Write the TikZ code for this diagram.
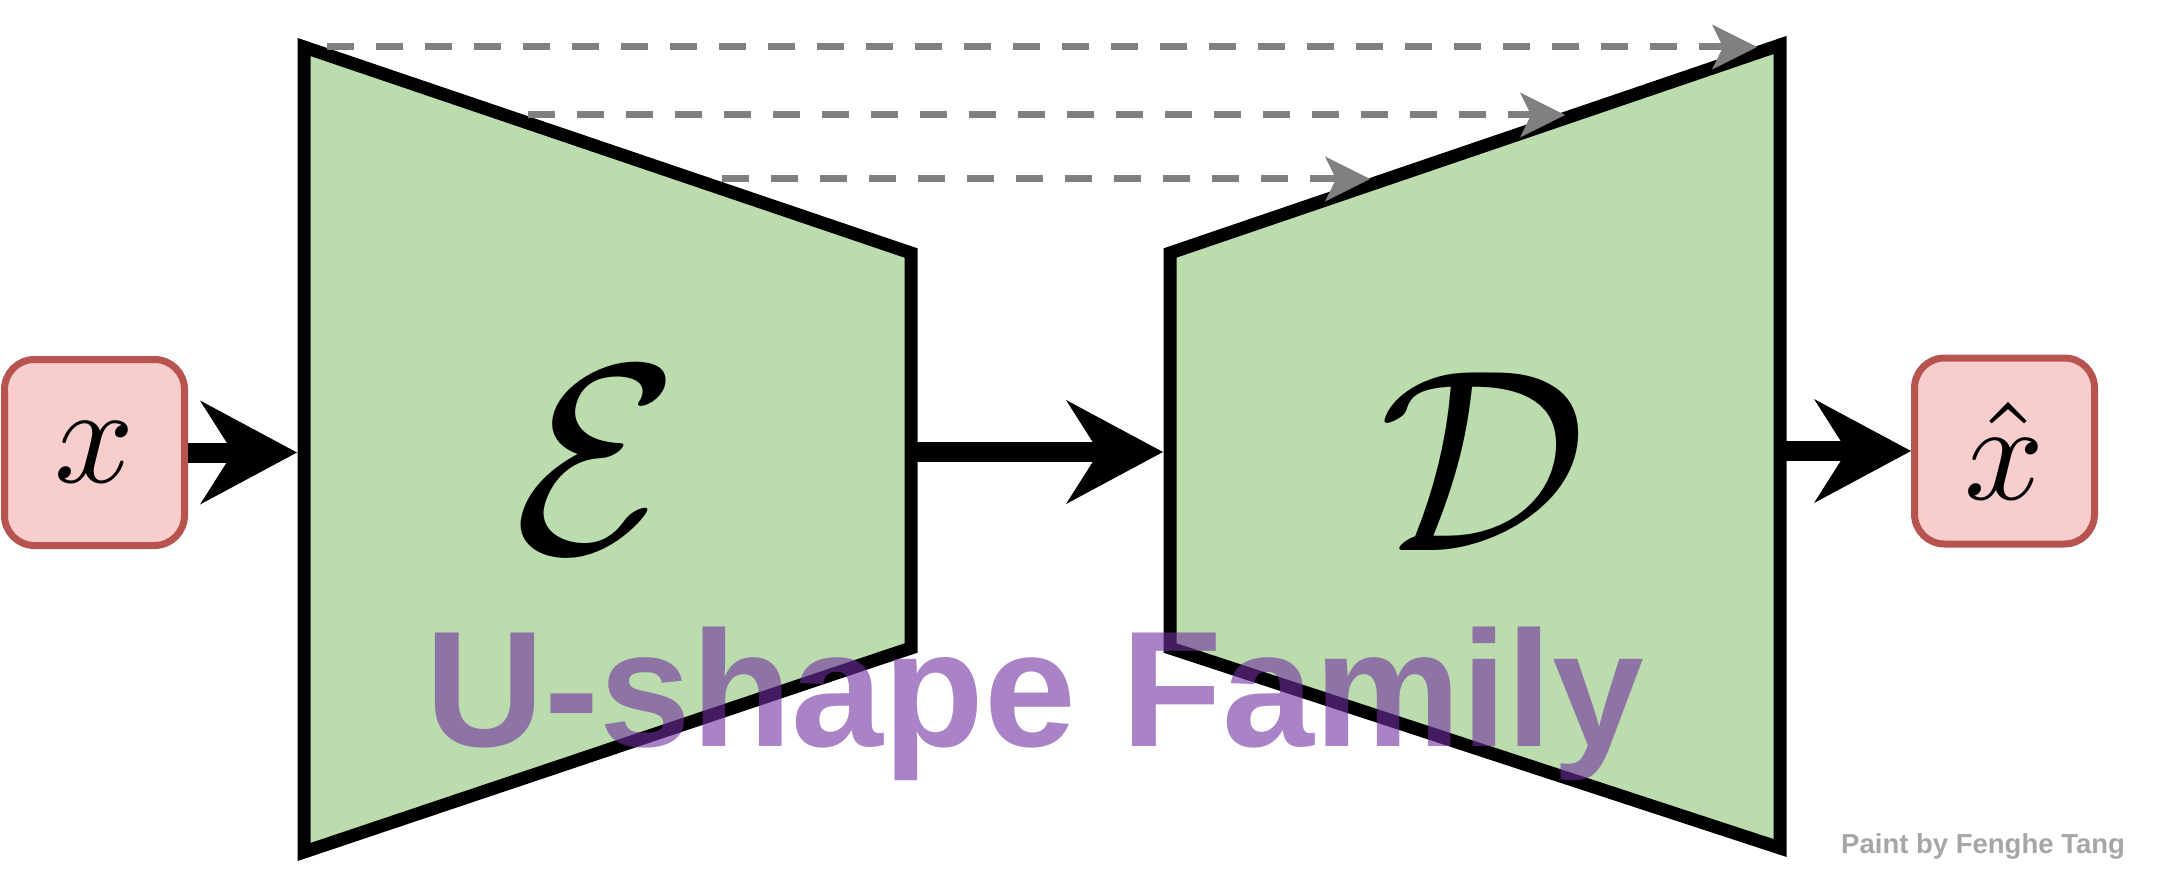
\documentclass[tikz,border=0pt]{standalone}
\usepackage{fontspec}
\usepackage{graphicx}
\setsansfont{Liberation Sans}
\usetikzlibrary{arrows.meta}
\definecolor{encgreen}{HTML}{BBDCAD}
\definecolor{boxfill}{HTML}{F8CECC}
\definecolor{boxline}{HTML}{B85450}
\definecolor{ushape}{HTML}{7030A0}
\definecolor{skipgray}{HTML}{808080}
\definecolor{creditgray}{HTML}{A6A6A6}
\begin{document}
\begin{tikzpicture}[x=1pt,y=-1pt,
  block/.style={draw=black,line width=13pt,fill=encgreen,line join=miter},
  iobox/.style={draw=boxline,fill=boxfill,line width=7pt,rounded corners=30pt,minimum width=180pt,minimum height=186pt,inner sep=0pt},
  flow/.style={line width=20pt,-{Stealth[length=97pt,width=104pt,inset=33pt,line width=0pt]}},
  skip/.style={draw=skipgray,line width=7pt,dash pattern=on 27pt off 22pt,-{Stealth[length=45pt,width=45pt,inset=11pt,line width=0pt]}},
  bigsym/.style={inner sep=0pt},
]
\useasboundingbox (0,0) rectangle (2162,885);
% encoder
\coordinate (e1) at (304,47);
\coordinate (e2) at (911,253);
\coordinate (e3) at (911,648);
\coordinate (e4) at (304,852);
\draw[block] (e1) -- (e2) -- (e3) -- (e4) -- cycle;
% decoder
\coordinate (d1) at (1170,253);
\coordinate (d2) at (1780,45);
\coordinate (d3) at (1780,848);
\coordinate (d4) at (1170,648);
\draw[block] (d1) -- (d2) -- (d3) -- (d4) -- cycle;
\node[bigsym] (E) at (597,460) {\scalebox{27}{$\mathcal{E}$}};
\node[bigsym] (D) at (1483,462) {\scalebox{26}{$\mathcal{D}$}};
% io boxes
\node[iobox] (x) at (94.5,452.5) {\scalebox{14}{$x$}};
\node[iobox] (xhat) at (2004.5,451) {\scalebox{14}{$\hat{x}$}};
% main flow
\coordinate (encin) at (297,452.5);
\coordinate (encout) at (911,452);
\coordinate (decin) at (1163,452);
\coordinate (decout) at (1780,451);
\draw[flow] (x.east) -- (encin);
\draw[flow] (encout) -- (decin);
\draw[flow] (decout) -- (xhat.west);
% title
\node[anchor=base,font=\sffamily\bfseries\fontsize{165}{165}\selectfont,text=ushape,text opacity=0.6] (title) at (1035,746) {U-shape Family};
% skip connections
\coordinate (s1a) at (327,47);
\coordinate (s1b) at (1757,47);
\coordinate (s2a) at (528,115);
\coordinate (s2b) at (1565,115);
\coordinate (s3a) at (722,179);
\coordinate (s3b) at (1370,179);
\draw[skip] (s1a) -- (s1b);
\draw[skip] (s2a) -- (s2b);
\draw[skip] (s3a) -- (s3b);
% credit
\node[anchor=base west,inner sep=0pt,font=\sffamily\bfseries\fontsize{27.5}{28}\selectfont,text=creditgray] (credit) at (1841,853) {Paint by Fenghe Tang};
\end{tikzpicture}
\end{document}
